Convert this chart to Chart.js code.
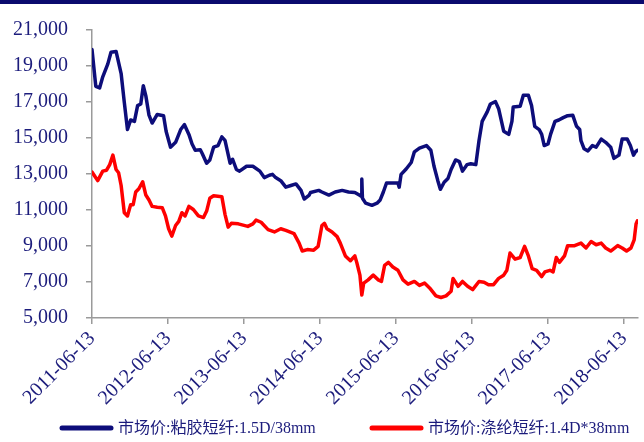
<!DOCTYPE html>
<html>
<head>
<meta charset="utf-8">
<title>粘胶短纤 / 涤纶短纤 市场价</title>
<script src="https://cdn.jsdelivr.net/npm/chart.js@4.4.1/dist/chart.umd.min.js"></script>
<style>
    html, body { margin: 0; padding: 0; background: #fff; }
    #wrap { position: relative; width: 644px; height: 442px; }
    #topBar { position: absolute; left: 0; top: 0; width: 644px; height: 4px; background: #0a0a6e; }
</style>
</head>
<body>
<div id="wrap">
    <canvas id="fiberChart" width="644" height="442"></canvas>
    <div id="topBar"></div>
</div>
<script>
// Tick labels on the x axis (one per year, months counted from 2011-06-13)
const tickMonths = [0, 12, 24, 36, 48, 60, 72, 84];
const tickLabels = ['2011-06-13', '2012-06-13', '2013-06-13', '2014-06-13',
    '2015-06-13', '2016-06-13', '2017-06-13', '2018-06-13'];

// Series names
const seriesNames = ['市场价:粘胶短纤:1.5D/38mm', '市场价:涤纶短纤:1.4D*38mm'];

// Viscose staple fiber: months since 2011-06-13, price (yuan/ton)
const viscoseMonths = [0.0, 0.6, 1.2, 1.7, 2.5, 3.0, 3.8, 4.6, 5.1, 5.6, 6.1, 6.7, 7.2, 7.7, 8.1, 8.5,
    9.0, 9.5, 10.3, 11.3, 11.7, 12.4, 13.2, 14.0, 14.6, 15.3, 15.8, 16.3, 17.1, 17.4, 18.1, 18.6,
    19.2, 19.9, 20.5, 21.0, 21.8, 22.2, 22.8, 23.3, 24.4, 25.4, 26.5, 27.2, 28.0, 28.5, 29.0, 29.8,
    30.6, 31.4, 32.2, 33.0, 33.5, 34.3, 34.5, 35.8, 36.3, 37.4, 38.4, 39.5, 40.5, 41.5, 42.2, 42.5,
    42.6, 42.7, 43.2, 44.2, 45.0, 45.5, 46.0, 46.5, 47.5, 48.3, 48.5, 48.8, 49.6, 50.4, 50.9, 51.7,
    52.8, 53.5, 54.0, 54.6, 55.0, 55.6, 56.2, 56.7, 57.4, 58.0, 58.5, 59.2, 59.8, 60.6, 61.1, 61.6,
    62.4, 62.9, 63.7, 64.2, 65.0, 65.8, 66.3, 66.5, 67.6, 68.1, 68.9, 69.4, 69.9, 70.6, 71.0, 71.4,
    72.0, 72.4, 73.1, 73.7, 74.4, 75.1, 75.9, 76.5, 77.0, 77.2, 77.7, 78.3, 79.0, 79.6, 80.4, 81.1,
    81.9, 82.4, 83.2, 83.7, 84.5, 85.0, 85.5, 85.8, 86.1];
const viscosePrices = [19920, 17870, 17780, 18400, 19120, 19760, 19810, 18580, 16980, 15470, 16000, 15920, 16800, 16890, 17900, 17340,
    16270, 15830, 16310, 16240, 15380, 14490, 14760, 15470, 15740, 15200, 14670, 14320, 14350, 14140, 13600, 13780,
    14490, 14580, 15060, 14870, 13600, 13820, 13250, 13160, 13430, 13430, 13160, 12800, 12930, 12980, 12800, 12630,
    12270, 12360, 12450, 12090, 11610, 11830, 11970, 12090, 12000, 11830, 12000, 12090, 12000, 11970, 11830, 11770,
    12720, 11650, 11380, 11260, 11380, 11560, 12000, 12500, 12500, 12500, 12270, 12980, 13280, 13640, 14230, 14440,
    14580, 14320, 13430, 12630, 12150, 12540, 12750, 13250, 13780, 13690, 13160, 13520, 13570, 13520, 14850, 15920,
    16450, 16890, 17020, 16630, 15380, 15200, 15920, 16720, 16770, 17370, 17370, 16800, 15650, 15470, 15200, 14580,
    14670, 15200, 15920, 16000, 16130, 16240, 16270, 15650, 15470, 14850, 14400, 14280, 14580, 14490, 14940, 14760,
    14490, 13870, 14050, 14940, 14940, 14580, 14050, 14230, 14320];

// Polyester staple fiber: months since 2011-06-13, price (yuan/ton)
const polyesterMonths = [0.0, 0.9, 1.7, 2.3, 2.8, 3.3, 3.8, 4.2, 4.6, 5.1, 5.6, 6.1, 6.5, 6.9, 7.4, 8.0,
    8.5, 9.0, 9.5, 10.3, 11.1, 11.6, 12.1, 12.6, 13.2, 13.7, 14.2, 14.7, 15.3, 16.0, 16.8, 17.6,
    18.1, 18.6, 19.2, 20.5, 21.0, 21.5, 22.0, 23.1, 24.6, 25.4, 25.9, 26.7, 27.8, 28.8, 29.8, 30.6,
    31.9, 32.7, 33.2, 34.0, 35.0, 35.7, 36.3, 36.7, 37.1, 37.9, 38.7, 39.2, 40.0, 40.8, 41.5, 41.8,
    42.3, 42.6, 42.9, 43.6, 44.4, 45.2, 45.7, 46.2, 46.8, 47.5, 48.3, 49.1, 49.9, 50.9, 51.7, 52.5,
    53.3, 54.3, 55.1, 55.9, 56.7, 57.0, 57.8, 58.5, 59.3, 60.1, 61.1, 61.9, 62.6, 63.4, 64.2, 65.0,
    65.5, 66.0, 66.8, 67.6, 68.3, 68.9, 69.5, 70.2, 71.0, 71.5, 72.3, 72.8, 73.3, 73.8, 74.6, 75.1,
    76.2, 77.2, 78.0, 78.8, 79.6, 80.4, 81.1, 81.9, 83.0, 83.7, 84.4, 85.1, 85.6, 85.9, 86.1];
const polyesterPrices = [13110, 12630, 13160, 13210, 13520, 14050, 13250, 13070, 12360, 10850, 10670, 11290, 11290, 12000, 12180, 12570,
    11830, 11560, 11200, 11150, 11120, 10670, 9960, 9550, 10140, 10370, 10850, 10670, 11200, 11030, 10670, 10580,
    10940, 11650, 11790, 11740, 10760, 10050, 10260, 10230, 10090, 10230, 10440, 10320, 9910, 9780, 9960, 9870,
    9690, 9160, 8720, 8800, 8770, 8980, 10140, 10260, 9960, 9780, 9520, 9160, 8450, 8180, 8450, 8090,
    7380, 6280, 6940, 7120, 7380, 7120, 7030, 7920, 8090, 7830, 7650, 7120, 6880, 7030, 6810, 6940,
    6670, 6230, 6140, 6230, 6490, 7200, 6760, 7030, 6760, 6580, 7030, 6990, 6850, 6850, 7200, 7380,
    7650, 8610, 8270, 8360, 8980, 8450, 7740, 7650, 7300, 7560, 7650, 7560, 8360, 8090, 8450, 9020,
    9020, 9160, 8890, 9250, 9070, 9160, 8890, 8720, 9020, 8890, 8720, 8890, 9340, 10230, 10400];

// Y axis range
const yMin = 5000;
const yMax = 21000;
const yStep = 2000;

const fontFamily = "'Liberation Serif', 'Times New Roman', 'Noto Sans CJK SC', serif";
const textColor = '#1c1c7c';
const axisColor = '#9a9a9a';
const lineColors = ['#0d0d7a', '#ff0000'];

const toPoints = (xs, ys) => xs.map((x, i) => ({ x: x, y: ys[i] }));

// Legend drawn under the x labels, line sample + text per series
const bottomLegend = {
    id: 'bottomLegend',
    afterDraw: (chart) => {
        const ctx = chart.ctx;
        const y = 428;
        const starts = [60, 370];
        ctx.save();
        ctx.font = "16px " + fontFamily;
        ctx.textBaseline = 'middle';
        chart.data.datasets.forEach((ds, i) => {
            const x = starts[i];
            ctx.strokeStyle = ds.borderColor;
            ctx.lineWidth = 5;
            ctx.lineCap = 'round';
            ctx.beginPath();
            ctx.moveTo(x + 2, y);
            ctx.lineTo(x + 51, y);
            ctx.stroke();
            ctx.fillStyle = textColor;
            ctx.fillText(ds.label, x + 58, y + 1);
        });
        ctx.restore();
    }
};

const lineStyle = {
    borderWidth: 3.5,
    borderJoinStyle: 'round',
    borderCapStyle: 'round',
    pointRadius: 0,
    tension: 0
};

new Chart(document.getElementById('fiberChart'), {
    type: 'line',
    data: {
        datasets: [{
            label: seriesNames[0],
            data: toPoints(viscoseMonths, viscosePrices),
            borderColor: lineColors[0],
            backgroundColor: lineColors[0],
            ...lineStyle
        }, {
            label: seriesNames[1],
            data: toPoints(polyesterMonths, polyesterPrices),
            borderColor: lineColors[1],
            backgroundColor: lineColors[1],
            ...lineStyle
        }]
    },
    options: {
        responsive: false,
        animation: false,
        layout: { padding: { top: 18, right: 0, bottom: 0, left: 0 } },
        plugins: {
            legend: { display: false },
            tooltip: { enabled: false }
        },
        scales: {
            x: {
                type: 'linear',
                min: 0,
                max: 86.2,
                afterBuildTicks: (scale) => {
                    scale.ticks = tickMonths.map(v => ({ value: v }));
                },
                afterFit: (scale) => { scale.height = 124; },
                grid: { drawOnChartArea: false, color: axisColor, tickLength: 6, lineWidth: 1.5 },
                border: { color: axisColor, width: 1.5 },
                ticks: {
                    autoSkip: false,
                    minRotation: 45,
                    maxRotation: 45,
                    padding: 3,
                    color: textColor,
                    font: { family: fontFamily, size: 20 },
                    callback: (value) => tickLabels[tickMonths.indexOf(value)]
                }
            },
            y: {
                min: yMin,
                max: yMax,
                afterFit: (scale) => { scale.width = 92; },
                grid: { drawOnChartArea: false, color: axisColor, tickLength: 6, lineWidth: 1.5 },
                border: { color: axisColor, width: 1.5 },
                ticks: {
                    stepSize: yStep,
                    padding: 18,
                    color: textColor,
                    font: { family: fontFamily, size: 20 },
                    callback: (value) => value.toLocaleString('en-US')
                }
            }
        }
    },
    plugins: [bottomLegend]
});
</script>
</body>
</html>
